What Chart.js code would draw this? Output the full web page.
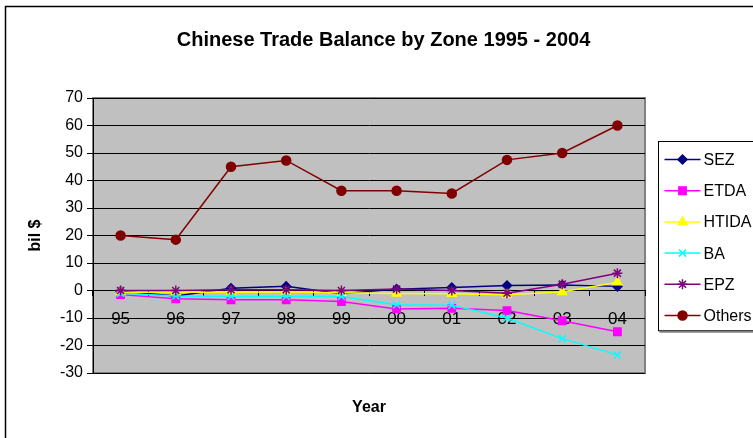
<!DOCTYPE html>
<html>
<head>
<meta charset="utf-8">
<script src="https://cdn.jsdelivr.net/npm/chart.js@4.4.1/dist/chart.umd.min.js"></script>
<style>
  html, body { margin: 0; padding: 0; background: #fff; }
  #wrap { width: 753px; height: 438px; position: relative; }
</style>
</head>
<body>
<div id="wrap"><canvas id="grafico" width="753" height="438"></canvas></div>
<script>
// data
const years = ['95', '96', '97', '98', '99', '00', '01', '02', '03', '04'];
const sez    = [-0.3, -2.0, 0.8, 1.5, -1.2, 0.5, 1.1, 1.8, 2.0, 1.5];
const etda   = [-1.5, -3.0, -3.4, -3.4, -4.0, -6.7, -6.5, -7.3, -11.0, -15.0];
const htida  = [-0.6, -0.6, -0.6, -0.5, -0.8, -1.1, -1.2, -1.5, -0.5, 3.0];
const ba     = [-1.0, -2.0, -2.2, -2.2, -2.2, -5.2, -5.4, -10.0, -17.5, -23.4];
const epz    = [0.0, 0.0, 0.3, 0.3, 0.0, 0.5, 0.0, -1.0, 2.3, 6.3];
const others = [20.0, 18.5, 45.0, 47.3, 36.3, 36.3, 35.3, 47.5, 50.0, 60.0];
const yTickValues = [-30, -20, -10, 0, 10, 20, 30, 40, 50, 60, 70];

const FONT = '"Liberation Sans", Arial, sans-serif';

function serie(label, data, color, style, radius, order) {
  return {
    label: label,
    data: data,
    borderColor: color,
    backgroundColor: color,
    pointBackgroundColor: color,
    pointBorderColor: color,
    pointStyle: style,
    pointRadius: radius,
    pointHoverRadius: radius,
    pointBorderWidth: 1.5,
    borderWidth: 1.5,
    tension: 0,
    order: order
  };
}

// fondo gris del area, marco exterior y leyenda con linea + marcador
const excelLook = {
  id: 'excelLook',
  beforeDraw(chart) {
    const ctx = chart.ctx;
    const ca = chart.chartArea;
    ctx.save();
    ctx.fillStyle = '#fff';
    ctx.fillRect(0, 0, chart.width, chart.height);
    ctx.strokeStyle = '#000';
    ctx.lineWidth = 1.5;
    ctx.beginPath();
    ctx.moveTo(5.5, chart.height + 5);
    ctx.lineTo(5.5, 6.5);
    ctx.lineTo(chart.width + 5, 6.5);
    ctx.stroke();
    ctx.fillStyle = '#c0c0c0';
    ctx.fillRect(ca.left, ca.top, ca.right - ca.left, ca.bottom - ca.top);
    ctx.strokeStyle = '#808080';
    ctx.lineWidth = 2;
    ctx.strokeRect(ca.left, ca.top, ca.right - ca.left, ca.bottom - ca.top);
    ctx.restore();
  },
  afterDraw(chart) {
    const ctx = chart.ctx;
    const ca = chart.chartArea;
    const sets = chart.data.datasets;
    const rowH = 31.2;
    const boxH = rowH * sets.length + 2;
    const bx = ca.right + 13.5;
    const by = Math.round((ca.top + ca.bottom) / 2 - boxH / 2) + 0.5;
    ctx.save();
    ctx.strokeStyle = '#000';
    ctx.lineWidth = 1;
    ctx.strokeRect(bx, by, chart.width, boxH);
    ctx.strokeStyle = '#808080';
    ctx.lineWidth = 2;
    ctx.beginPath();
    ctx.moveTo(bx + 1, by + boxH + 1);
    ctx.lineTo(chart.width, by + boxH + 1);
    ctx.stroke();
    ctx.font = '16px ' + FONT;
    ctx.textBaseline = 'middle';
    ctx.textAlign = 'left';
    sets.forEach(function(ds, i) {
      const y = by + 18 + i * rowH;
      ctx.strokeStyle = ds.borderColor;
      ctx.lineWidth = ds.borderWidth;
      ctx.beginPath();
      ctx.moveTo(bx + 6, y);
      ctx.lineTo(bx + 42, y);
      ctx.stroke();
      ctx.fillStyle = ds.pointBackgroundColor;
      ctx.strokeStyle = ds.pointBorderColor;
      ctx.lineWidth = ds.pointBorderWidth;
      if (Chart.helpers && Chart.helpers.drawPoint) {
        Chart.helpers.drawPoint(ctx, {pointStyle: ds.pointStyle, radius: ds.pointRadius, rotation: 0, borderWidth: ds.pointBorderWidth}, bx + 24, y);
      } else {
        ctx.beginPath();
        ctx.arc(bx + 24, y, ds.pointRadius, 0, Math.PI * 2);
        ctx.fill();
      }
      ctx.fillStyle = '#000';
      ctx.fillText(ds.label, bx + 45, y + 1);
    });
    ctx.restore();
  }
};

const ctx = document.getElementById('grafico').getContext('2d');
const grafico = new Chart(ctx, {
  type: 'line',
  data: {
    labels: years,
    datasets: [
      serie('SEZ', sez, '#000080', 'rectRot', 4.5, 5),
      serie('ETDA', etda, '#ff00ff', 'rect', 5.2, 4),
      serie('HTIDA', htida, '#ffff00', 'triangle', 5, 3),
      serie('BA', ba, '#00ffff', 'crossRot', 5, 2),
      serie('EPZ', epz, '#800080', 'star', 5, 1),
      serie('Others', others, '#800000', 'circle', 4.5, 0)
    ]
  },
  options: {
    responsive: false,
    animation: false,
    devicePixelRatio: 1,
    layout: { padding: { left: 14, right: 0, top: 0, bottom: 0 } },
    plugins: {
      legend: { display: false },
      tooltip: { enabled: false },
      title: {
        display: true,
        text: 'Chinese Trade Balance by Zone 1995 - 2004',
        color: '#000',
        font: { family: FONT, size: 20, weight: 'bold' },
        padding: { top: 28, bottom: 46 }
      }
    },
    scales: {
      x: {
        type: 'category',
        position: { y: 0 },
        offset: true,
        grid: { display: true, drawOnChartArea: false, drawTicks: true, tickLength: 5, offset: true, color: '#000' },
        border: { display: true, color: '#000', width: 1 },
        ticks: { color: '#000', font: { family: FONT, size: 17 }, padding: 14, maxRotation: 0, autoSkip: false }
      },
      x2: {
        type: 'category',
        position: 'bottom',
        offset: true,
        grid: { display: false },
        border: { display: false },
        ticks: { display: false },
        title: {
          display: true,
          text: 'Year',
          color: '#000',
          font: { family: FONT, size: 16, weight: 'bold' },
          padding: { top: 0, bottom: 20.4 }
        },
        afterFit(scale) { scale.height = 65; }
      },
      y: {
        min: -30,
        max: 70,
        afterBuildTicks(scale) { scale.ticks = yTickValues.map(v => ({ value: v })); },
        grid: { color: '#000', lineWidth: 1, tickLength: 6, drawTicks: true },
        border: { display: true, color: '#000', width: 1 },
        ticks: { color: '#000', font: { family: FONT, size: 16 }, padding: 4 },
        title: {
          display: true,
          text: 'bil $',
          color: '#000',
          font: { family: FONT, size: 16, weight: 'bold' },
          padding: { top: 12.4, bottom: 0 }
        },
        afterFit(scale) { scale.width = 79; }
      },
      // hueco a la derecha para la leyenda
      yLeyenda: {
        position: 'right',
        display: true,
        min: -30,
        max: 70,
        grid: { display: false, drawTicks: false },
        border: { display: false },
        ticks: { display: false },
        afterFit(scale) { scale.width = 108; }
      }
    }
  },
  plugins: [excelLook]
});
</script>
</body>
</html>
